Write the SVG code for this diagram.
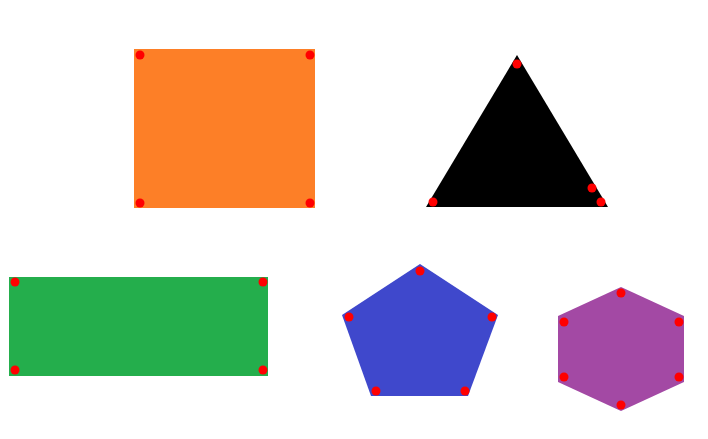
<svg xmlns="http://www.w3.org/2000/svg" width="708" height="439" viewBox="0 0 708 439">
<style>
.dot{fill:#ff0000}
</style>
<rect width="708" height="439" fill="#ffffff"/>
<g id="square">
<rect x="134" y="49" width="181" height="159" fill="#fd7f27"/>
<circle class="dot" cx="140" cy="55" r="4.5"/>
<circle class="dot" cx="310" cy="55" r="4.5"/>
<circle class="dot" cx="140" cy="203" r="4.5"/>
<circle class="dot" cx="310" cy="203" r="4.5"/>
</g>
<g id="triangle">
<polygon points="517,55 608,207 426,207" fill="#000000"/>
<circle class="dot" cx="517" cy="64" r="4.5"/>
<circle class="dot" cx="433" cy="202" r="4.5"/>
<circle class="dot" cx="592" cy="188" r="4.5"/>
<circle class="dot" cx="601" cy="202" r="4.5"/>
</g>
<g id="rectangle">
<rect x="9" y="277" width="259" height="99" fill="#24ae4c"/>
<circle class="dot" cx="15" cy="282" r="4.5"/>
<circle class="dot" cx="263" cy="282" r="4.5"/>
<circle class="dot" cx="15" cy="370" r="4.5"/>
<circle class="dot" cx="263" cy="370" r="4.5"/>
</g>
<g id="pentagon">
<polygon points="420,264 498,315 468,396 371,396 342,315" fill="#3f48cc"/>
<circle class="dot" cx="420" cy="271" r="4.5"/>
<circle class="dot" cx="349" cy="317" r="4.5"/>
<circle class="dot" cx="492" cy="317" r="4.5"/>
<circle class="dot" cx="376" cy="391" r="4.5"/>
<circle class="dot" cx="465" cy="391" r="4.5"/>
</g>
<g id="hexagon">
<polygon points="621,287 684,316 684,382 621,411 558,382 558,316" fill="#a349a4"/>
<circle class="dot" cx="621" cy="293" r="4.5"/>
<circle class="dot" cx="564" cy="322" r="4.5"/>
<circle class="dot" cx="679" cy="322" r="4.5"/>
<circle class="dot" cx="564" cy="377" r="4.5"/>
<circle class="dot" cx="679" cy="377" r="4.5"/>
<circle class="dot" cx="621" cy="405" r="4.5"/>
</g>
<g id="connectors"></g>
</svg>
